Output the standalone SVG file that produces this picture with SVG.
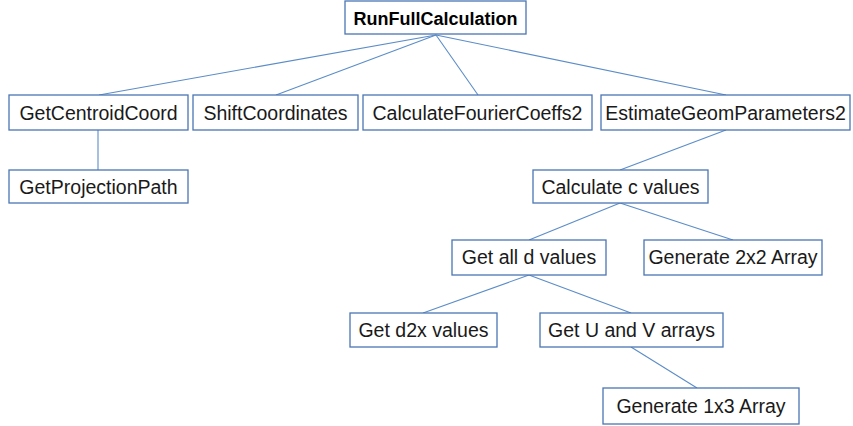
<svg xmlns="http://www.w3.org/2000/svg" width="853" height="426" viewBox="0 0 853 426">
  <style>
    .box { fill: #ffffff; stroke: #4a76b4; stroke-width: 1.3; }
    .lbl { font-family: "Liberation Sans", Arial, sans-serif; font-size: 19.5px; fill: #1a1a1a; text-anchor: middle; }
    .root { font-weight: bold; font-size: 18px; fill: #000000; }
    .edge { stroke: #5b8cc8; stroke-width: 1.1; fill: none; }
  </style>
  <rect width="853" height="426" fill="#ffffff"/>

  <!-- call tree connectors -->
  <g id="connectors">
    <line class="edge" x1="436" y1="35" x2="99" y2="95"/>
    <line class="edge" x1="436" y1="35" x2="276" y2="95"/>
    <line class="edge" x1="436" y1="35" x2="478" y2="95"/>
    <line class="edge" x1="436" y1="35" x2="726" y2="95"/>
    <line class="edge" x1="98" y1="130" x2="98" y2="170"/>
    <line class="edge" x1="726" y1="130" x2="620" y2="170"/>
    <line class="edge" x1="620" y1="203" x2="529" y2="240"/>
    <line class="edge" x1="620" y1="203" x2="733" y2="240"/>
    <line class="edge" x1="529" y1="275" x2="423" y2="313"/>
    <line class="edge" x1="529" y1="275" x2="631" y2="313"/>
    <line class="edge" x1="631" y1="347" x2="697" y2="388"/>
  </g>

  <g id="RunFullCalculation">
    <rect class="box" x="345" y="1" width="181" height="33"/>
    <text class="lbl root" x="435.5" y="25">RunFullCalculation</text>
  </g>
  <g id="GetCentroidCoord">
    <rect class="box" x="9" y="95" width="179" height="35"/>
    <text class="lbl" x="98.5" y="120">GetCentroidCoord</text>
  </g>
  <g id="ShiftCoordinates">
    <rect class="box" x="193" y="95" width="165" height="35"/>
    <text class="lbl" x="275.5" y="120">ShiftCoordinates</text>
  </g>
  <g id="CalculateFourierCoeffs2">
    <rect class="box" x="363" y="95" width="229" height="35"/>
    <text class="lbl" x="477.5" y="120">CalculateFourierCoeffs2</text>
  </g>
  <g id="EstimateGeomParameters2">
    <rect class="box" x="601" y="95" width="249" height="35"/>
    <text class="lbl" x="725.5" y="120">EstimateGeomParameters2</text>
  </g>
  <g id="GetProjectionPath">
    <rect class="box" x="9" y="170" width="179" height="33"/>
    <text class="lbl" x="98.5" y="194">GetProjectionPath</text>
  </g>
  <g id="CalculateCValues">
    <rect class="box" x="533" y="170" width="175" height="33"/>
    <text class="lbl" x="620.5" y="194">Calculate c values</text>
  </g>
  <g id="GetAllDValues">
    <rect class="box" x="452" y="240" width="154" height="35"/>
    <text class="lbl" x="529" y="264">Get all d values</text>
  </g>
  <g id="Generate2x2Array">
    <rect class="box" x="644" y="240" width="178" height="35"/>
    <text class="lbl" x="733" y="264">Generate 2x2 Array</text>
  </g>
  <g id="GetD2xValues">
    <rect class="box" x="350" y="313" width="147" height="34"/>
    <text class="lbl" x="423.5" y="337">Get d2x values</text>
  </g>
  <g id="GetUAndVArrays">
    <rect class="box" x="540" y="313" width="183" height="34"/>
    <text class="lbl" x="631.5" y="337">Get U and V arrays</text>
  </g>
  <g id="Generate1x3Array">
    <rect class="box" x="603" y="388" width="196" height="36"/>
    <text class="lbl" x="701" y="413">Generate 1x3 Array</text>
  </g>
</svg>
